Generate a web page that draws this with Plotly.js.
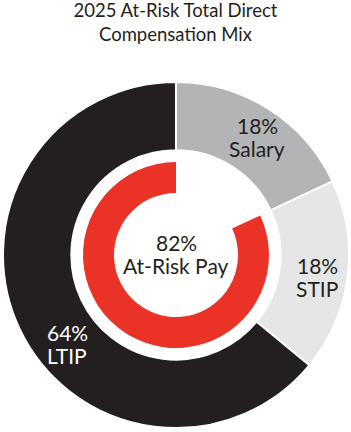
<!DOCTYPE html>
<html>
<head>
<meta charset="utf-8">
<script src="https://cdn.plot.ly/plotly-3.0.1.min.js"></script>
<style>html,body{margin:0;padding:0;background:#fff;}#chart{width:351px;height:432px;}</style>
</head>
<body>
<div id="chart"></div>
<script>
var categories = ["Salary", "STIP", "LTIP"];
var shares = [18, 18, 64];
var atRiskLabel = "At-Risk Pay";
var atRiskShare = 82;
var fixedShare = 18;

var FONT = "Lato, 'Noto Sans', sans-serif";
var colors = ["#b3b4b6", "#e6e6e7", "#231f20"];

var outer = {
  type: "pie",
  values: shares,
  labels: categories,
  sort: false,
  direction: "clockwise",
  rotation: 0,
  hole: 0.605,
  textinfo: "none",
  hoverinfo: "label+percent",
  marker: {colors: colors, line: {color: "#ffffff", width: 2}},
  domain: {x: [3/351, 349/351], y: [1 - 428/432, 1 - 82/432]},
  showlegend: false
};

var inner = {
  type: "pie",
  values: [fixedShare, atRiskShare],
  labels: ["Fixed", atRiskLabel],
  sort: false,
  direction: "clockwise",
  rotation: 0,
  hole: 0.667,
  textinfo: "none",
  hoverinfo: "none",
  marker: {colors: ["rgba(255,255,255,0)", "#ea3326"], line: {width: 0}},
  domain: {x: [83/351, 269/351], y: [1 - 348/432, 1 - 162/432]},
  showlegend: false
};

function ann(text, px, py, col) {
  return {text: text, x: px/351, y: 1 - py/432, xref: "paper", yref: "paper",
    xanchor: "center", yanchor: "middle", showarrow: false,
    font: {family: FONT, size: 21, color: col}};
}
function pair(top, bottom, px, py, col) {
  return [ann(top, px, py - 11.5, col), ann(bottom, px, py + 11.5, col)];
}

var annotations = []
  .concat(pair(shares[0] + "%", categories[0], 257, 137, "#231f20"))
  .concat(pair(shares[1] + "%", categories[1], 317, 277, "#231f20"))
  .concat(pair(shares[2] + "%", categories[2], 67, 344, "#ffffff"))
  .concat(pair(atRiskShare + "%", atRiskLabel, 176, 254, "#231f20"));

var layout = {
  width: 351, height: 432,
  margin: {l: 0, r: 0, t: 0, b: 0},
  paper_bgcolor: "#ffffff",
  title: {text: "2025 At-Risk Total Direct<br>Compensation Mix", x: 0.5, xanchor: "center",
    y: 1 - 17/432, yanchor: "middle", yref: "container",
    font: {family: FONT, size: 18.5, color: "#231f20"}},
  annotations: annotations
};

Plotly.newPlot("chart", [outer, inner], layout, {displayModeBar: false, staticPlot: true});
</script>
</body>
</html>
